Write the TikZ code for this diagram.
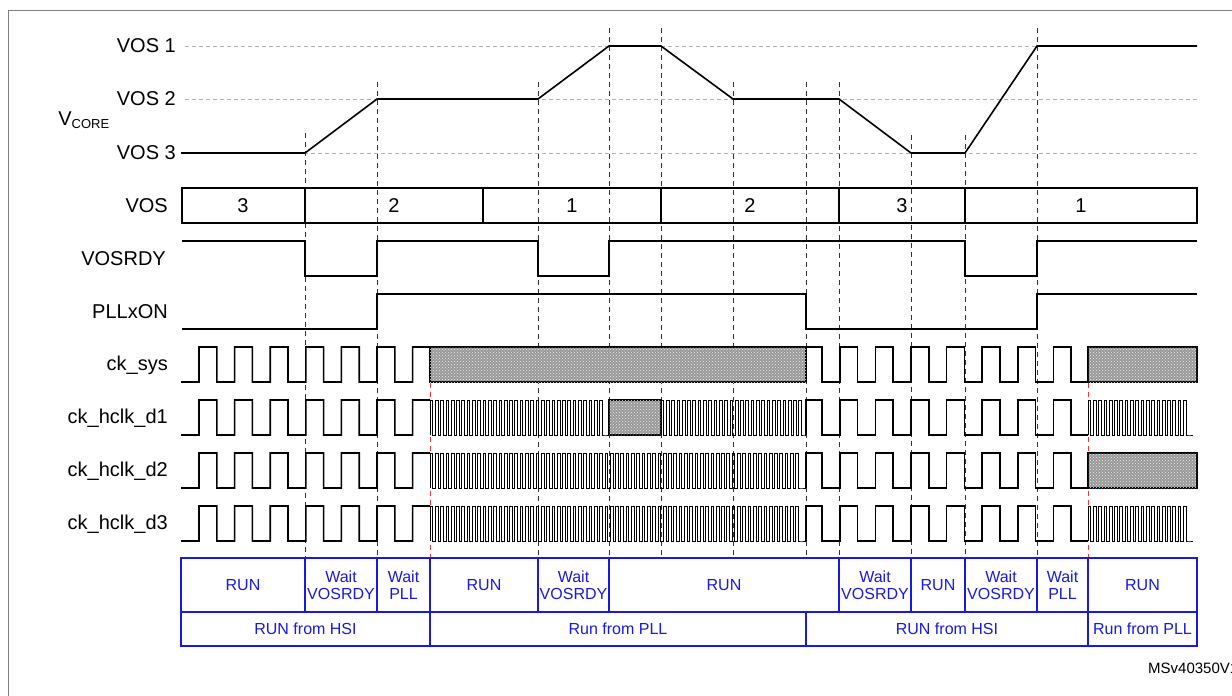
\documentclass[tikz,border=0pt]{standalone}
\usepackage{fontspec}
\setmainfont{Liberation Sans}
\usetikzlibrary{patterns}
\definecolor{runblue}{RGB}{25,25,225}
\tikzset{
  % signal lines
  sig/.style = {
    draw = black,
    line width = 1.6pt
  },
  fast/.style = {
    draw = black,
    line width = 0.7pt
  },
  % hatched part of a clock
  hatch/.style = {
    sig,
    fill = gray!80,
    postaction = {pattern = crosshatch dots, pattern color = white!85!gray}
  },
  level/.style = {
    draw = gray!60,
    line width = 0.6pt,
    dash pattern = on 4pt off 3pt
  },
  guide/.style = {
    draw = black!80,
    line width = 0.7pt,
    dash pattern = on 5pt off 4pt
  },
  redguide/.style = {
    guide,
    draw = red!80
  },
  siglab/.style = {
    anchor = east,
    inner sep = 0,
    font = \fontsize{20}{24}\selectfont
  },
  buslab/.style = {
    inner sep = 0,
    font = \fontsize{20}{24}\selectfont
  },
  % cell of the mode table
  cell/.style = {
    draw = runblue,
    text = runblue,
    line width = 1.8pt,
    inner sep = 0,
    align = center,
    font = \fontsize{16}{17}\selectfont
  }
}
% slow clock before the PLL is used, #1 = top of the row
\newcommand{\hsiclk}[1]{%
  \draw[sig] (181,#1+35) -- (199,#1+35)
    \foreach \k in {0,...,5}{
      -- ({199+35.6*\k},#1) -- ({216.8+35.6*\k},#1)
      -- ({216.8+35.6*\k},#1+35) -- ({234.6+35.6*\k},#1+35)}
    -- (412.6,#1) -- (430,#1);
}
% slow clock after the PLL is switched off
\newcommand{\hsiclkb}[1]{%
  \draw[sig] (806,#1+35) -- (806,#1) -- (822,#1) -- (822,#1+35)
    \foreach \k in {18,...,24}{
      -- ({199+35.6*\k},#1+35) -- ({199+35.6*\k},#1)
      -- ({216.8+35.6*\k},#1) -- ({216.8+35.6*\k},#1+35)}
    -- (1088,#1+35);
}
% fast clock, #1 = top of the row, #2 = start, #3 = end
\newcommand{\pllclk}[3]{%
  \pgfmathtruncatemacro\npll{(#3-#2)/5.3-1}
  \draw[fast] (#2,#1+35)
    \foreach \k in {0,...,\npll}{
      -- ({#2+5.3*\k},#1) -- ({#2+5.3*\k+2.65},#1)
      -- ({#2+5.3*\k+2.65},#1+35) -- ({#2+5.3*\k+5.3},#1+35)}
    -- (#3,#1+35);
}

\begin{document}
\begin{tikzpicture}[x=1pt, y=-1pt]
  \useasboundingbox (0,0) rectangle (1232,696);
  \draw[gray, line width=0.8pt] (8,700) -- (8,10) -- (1240,10);

  % guides
  \foreach \x/\t in {305/133, 377/82, 538/82, 609/28, 661/28, 733/82,
                     806/82, 839/82, 911/135, 965/135, 1037/28}
    \draw[guide] (\x,\t) -- (\x,558);
  \foreach \x in {430, 1088}
    \draw[redguide] (\x,383) -- (\x,558);

  % V core
  \node[siglab] (lvos1) at (176,46) {VOS 1};
  \node[siglab] (lvos2) at (176,99) {VOS 2};
  \node[siglab] (lvos3) at (176,153) {VOS 3};
  \node[siglab, anchor=center] (lvcore) at (84,120) {V\textsubscript{\fontsize{13}{14}\selectfont CORE}};
  \foreach \y in {46, 99, 153}
    \draw[level] (185,\y) -- (1197,\y);
  \draw[sig] (181,153) -- (305,153) -- (377,99) -- (538,99) -- (609,46)
    -- (661,46) -- (733,99) -- (839,99) -- (911,153) -- (965,153)
    -- (1037,46) -- (1197,46);

  % VOS field
  \node[siglab] (lvos) at (168,206) {VOS};
  \draw[sig] (182,188) rectangle (1197,223);
  \foreach \x in {305, 483, 661, 839, 965}
    \draw[sig] (\x,188) -- (\x,223);
  \foreach \x/\v [count=\i] in {243/3, 394/2, 572/1, 750/2, 902/3, 1081/1}
    \node[buslab] (vos\i) at (\x,206) {\v};

  % VOSRDY and PLLxON
  \node[siglab] (lvosrdy) at (166,259) {VOSRDY};
  \draw[sig] (182,241) -- (305,241) -- (305,276) -- (377,276) -- (377,241)
    -- (538,241) -- (538,276) -- (609,276) -- (609,241) -- (965,241)
    -- (965,276) -- (1037,276) -- (1037,241) -- (1197,241);
  \node[siglab] (lpllxon) at (168,312) {PLLxON};
  \draw[sig] (182,329) -- (377,329) -- (377,294) -- (806,294) -- (806,329)
    -- (1037,329) -- (1037,294) -- (1197,294);

  % clocks
  \node[siglab] (lcksys) at (168,365) {ck\_sys};
  \node[siglab] (lckd1) at (168,418) {ck\_hclk\_d1};
  \node[siglab] (lckd2) at (168,471) {ck\_hclk\_d2};
  \node[siglab] (lckd3) at (168,524) {ck\_hclk\_d3};
  \foreach \t in {347, 400, 453, 506} {
    \hsiclk{\t}
    \hsiclkb{\t}
  }
  \draw[hatch] (430,347) rectangle (806,382);
  \draw[hatch] (1088,347) rectangle (1197,382);
  \pllclk{400}{430}{609}
  \draw[hatch] (609,400) rectangle (661,435);
  \pllclk{400}{661}{806}
  \pllclk{400}{1088}{1193}
  \pllclk{453}{430}{806}
  \draw[hatch] (1088,453) rectangle (1197,488);
  \pllclk{506}{430}{806}
  \pllclk{506}{1088}{1193}

  % mode table
  \foreach \a/\b/\t [count=\i] in {181/305/RUN, 305/377/{Wait\\VOSRDY},
      377/430/{Wait\\PLL}, 430/538/RUN, 538/609/{Wait\\VOSRDY}, 609/839/RUN,
      839/911/{Wait\\VOSRDY}, 911/965/RUN, 965/1037/{Wait\\VOSRDY},
      1037/1088/{Wait\\PLL}, 1088/1197/RUN}
    \node[cell, minimum width={(\b-\a)*1pt}, minimum height=54pt]
      (mode\i) at ({(\a+\b)/2},585) {\t};
  \foreach \a/\b/\t [count=\i] in {181/430/RUN from HSI, 430/806/Run from PLL,
      806/1088/RUN from HSI, 1088/1197/Run from PLL}
    \node[cell, minimum width={(\b-\a)*1pt}, minimum height=34pt]
      (src\i) at ({(\a+\b)/2},629) {\t};

  \node[anchor=west, inner sep=0, font=\fontsize{15}{16}\selectfont] (ref) at (1148,668) {MSv40350V1};
\end{tikzpicture}
\end{document}
